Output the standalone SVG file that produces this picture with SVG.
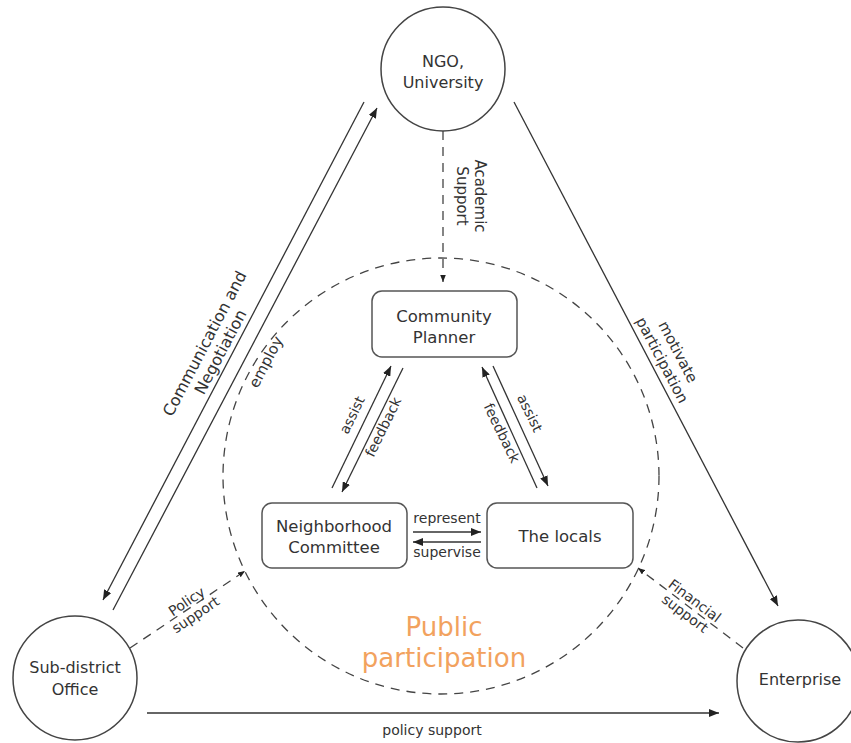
<svg xmlns="http://www.w3.org/2000/svg" width="851" height="743" viewBox="0 0 851 743">
<style>
  .bg { fill: #ffffff; }
  .circ { fill: #ffffff; stroke: #444; stroke-width: 1.5; }
  .box { fill: #ffffff; stroke: #555; stroke-width: 1.5; }
  .t { font-family: "DejaVu Sans", "Liberation Sans", sans-serif; fill: #333; text-anchor: middle; }
  .n { font-size: 16px; }
  .b { font-size: 16.5px; }
  .s { font-size: 14px; }
  .l { font-size: 15px; }
  .pub { font-family: "DejaVu Sans", "Liberation Sans", sans-serif; font-size: 26px; fill: #F2A25E; text-anchor: middle; }
  .line { fill: none; stroke: #333; stroke-width: 1.3; }
  .dash { fill: none; stroke: #444; stroke-width: 1.3; stroke-dasharray: 9 7; }
</style>
<defs>
  <marker id="arr" viewBox="0 0 10 8" refX="10" refY="4" markerWidth="10" markerHeight="8" markerUnits="userSpaceOnUse" orient="auto">
    <path d="M0,0 L10,4 L0,8 z" fill="#222"/>
  </marker>
  <marker id="arrs" viewBox="0 0 10 8" refX="10" refY="4" markerWidth="7" markerHeight="6" markerUnits="userSpaceOnUse" orient="auto">
    <path d="M0,0 L10,4 L0,8 z" fill="#222"/>
  </marker>
</defs>
<rect class="bg" x="0" y="0" width="851" height="743"/>

<g id="connectors">
  <!-- public participation boundary -->
  <circle class="dash" cx="441" cy="476" r="218"/>
  <!-- Academic support -->
  <line class="dash" x1="443" y1="131" x2="443" y2="282" marker-end="url(#arrs)"/>
  <!-- Communication and Negotiation -->
  <line class="line" x1="364" y1="102" x2="103" y2="600" marker-end="url(#arr)"/>
  <line class="line" x1="113" y1="610" x2="377" y2="108" marker-end="url(#arr)"/>
  <!-- motivate participation -->
  <line class="line" x1="514" y1="102" x2="778" y2="606" marker-end="url(#arr)"/>
  <!-- policy support bottom -->
  <line class="line" x1="147" y1="713" x2="719" y2="713" marker-end="url(#arr)"/>
  <!-- Policy support dashed -->
  <line class="dash" x1="130" y1="648" x2="245" y2="571" marker-end="url(#arrs)"/>
  <!-- Financial support dashed -->
  <line class="dash" x1="743" y1="648" x2="638" y2="568" marker-end="url(#arrs)"/>
  <!-- left assist / feedback -->
  <line class="line" x1="332" y1="488" x2="391" y2="366" marker-end="url(#arr)"/>
  <line class="line" x1="403" y1="368" x2="342" y2="492" marker-end="url(#arr)"/>
  <!-- right feedback / assist -->
  <line class="line" x1="537" y1="488" x2="482" y2="367" marker-end="url(#arr)"/>
  <line class="line" x1="493" y1="366" x2="548" y2="486" marker-end="url(#arr)"/>
  <!-- represent / supervise -->
  <line class="line" x1="413" y1="532" x2="481" y2="532" marker-end="url(#arr)"/>
  <line class="line" x1="481" y1="542" x2="413" y2="542" marker-end="url(#arr)"/>

  <!-- labels -->
  <g transform="translate(471,196) rotate(90)">
    <text class="t l" x="0" y="-4">Academic</text>
    <text class="t l" x="0" y="14">Support</text>
  </g>
  <g transform="translate(213,348) rotate(-62.3)">
    <text class="t n" x="0" y="-4">Communication and</text>
    <text class="t n" x="0" y="14">Negotiation</text>
  </g>
  <text class="t l" transform="translate(266,362) rotate(-62.3)" x="0" y="5">employ</text>
  <g transform="translate(670,356) rotate(62.3)">
    <text class="t l" x="0" y="-4">motivate</text>
    <text class="t l" x="0" y="14">participation</text>
  </g>
  <text class="t s" transform="translate(352,415) rotate(-64)" x="0" y="5">assist</text>
  <text class="t s" transform="translate(383,427) rotate(-64)" x="0" y="5">feedback</text>
  <text class="t s" transform="translate(502,433) rotate(64)" x="0" y="5">feedback</text>
  <text class="t s" transform="translate(530,413) rotate(64)" x="0" y="5">assist</text>
  <text class="t s" x="447" y="523">represent</text>
  <text class="t s" x="447" y="557">supervise</text>
  <g transform="translate(191,608) rotate(-34)">
    <text class="t s" x="0" y="-3">Policy</text>
    <text class="t s" x="0" y="13">support</text>
  </g>
  <g transform="translate(690,607) rotate(37)">
    <text class="t s" x="0" y="-3">Financial</text>
    <text class="t s" x="0" y="13">support</text>
  </g>
  <text class="t s" x="432" y="735">policy support</text>
</g>

<g id="ngo">
  <circle class="circ" cx="443" cy="69" r="62"/>
  <text class="t n" x="443" y="67">NGO,</text>
  <text class="t n" x="443" y="88">University</text>
</g>
<g id="subdistrict">
  <circle class="circ" cx="75" cy="678" r="62"/>
  <text class="t n" x="75" y="673">Sub-district</text>
  <text class="t n" x="75" y="695">Office</text>
</g>
<g id="enterprise">
  <circle class="circ" cx="798" cy="681" r="61"/>
  <text class="t n" x="800" y="685">Enterprise</text>
</g>
<g id="planner">
  <rect class="box" x="372" y="291" width="145" height="66" rx="10"/>
  <text class="t b" x="444" y="322">Community</text>
  <text class="t b" x="444" y="343">Planner</text>
</g>
<g id="committee">
  <rect class="box" x="262" y="503" width="145" height="65" rx="10"/>
  <text class="t b" x="334" y="532">Neighborhood</text>
  <text class="t b" x="334" y="553">Committee</text>
</g>
<g id="locals">
  <rect class="box" x="487" y="503" width="146" height="65" rx="10"/>
  <text class="t b" x="560" y="542">The locals</text>
</g>
<g id="public">
  <text class="pub" x="444" y="636">Public</text>
  <text class="pub" x="444" y="667">participation</text>
</g>
</svg>
